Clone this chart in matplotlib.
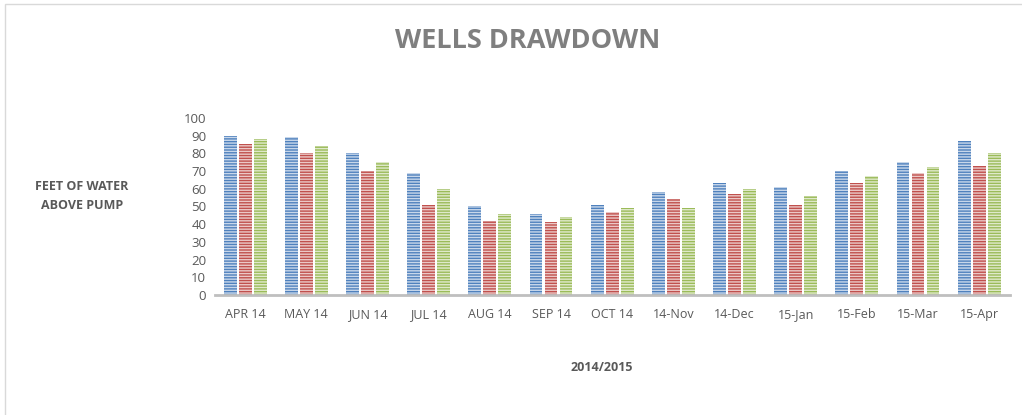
import matplotlib.pyplot as plt
import numpy as np
from matplotlib.patches import Rectangle

# months on the x axis
months = ['APR 14', 'MAY 14', 'JUN 14', 'JUL 14', 'AUG 14', 'SEP 14', 'OCT 14',
          '14-Nov', '14-Dec', '15-Jan', '15-Feb', '15-Mar', '15-Apr']

# three wells (no legend in the original)
well_1 = [90, 89, 80, 69, 50, 46, 51, 58, 63, 61, 70, 75, 87]
well_2 = [85, 80, 70, 51, 42, 41, 47, 54, 57, 51, 63, 69, 73]
well_3 = [88, 84, 75, 60, 46, 44, 49, 49, 60, 56, 67, 72, 80]

colors = ['#4F81BD', '#C0504D', '#9BBB59']

plt.rcParams['font.family'] = ['Open Sans', 'DejaVu Sans']
plt.rcParams['hatch.linewidth'] = 1.0

fig = plt.figure(figsize=(10.22, 4.15), dpi=100)
ax = fig.add_axes([0.21, 0.289, 0.778, 0.427])

x = np.arange(len(months))
pitch = 0.245
width = 0.21
for i, (vals, c) in enumerate(zip([well_1, well_2, well_3], colors)):
    # striped bars: white hatch over the series colour
    ax.bar(x + (i - 1) * pitch, vals, width, color=c, edgecolor='#FFFFFFB0',
           linewidth=0, hatch='------')

ax.set_xlim(-0.5, len(months) - 0.5)
ax.set_ylim(0, 100)
ax.set_yticks(range(0, 101, 10))
ax.set_xticks(x)
ax.set_xticklabels(months)
ax.tick_params(axis='x', length=0, labelsize=9, colors='#595959', pad=9)
ax.tick_params(axis='y', length=0, labelsize=9.5, colors='#595959', pad=6)

for side in ['top', 'right', 'left']:
    ax.spines[side].set_visible(False)
ax.spines['bottom'].set_color('#BFBFBF')
ax.spines['bottom'].set_linewidth(2)

fig.text(0.516, 0.9, 'WELLS DRAWDOWN', ha='center', va='center',
         fontsize=19.5, fontweight='bold', color='#7F7F7F')
fig.text(0.08, 0.527, 'FEET OF WATER\nABOVE PUMP', ha='center', va='center',
         fontsize=9, fontweight='bold', color='#595959', linespacing=1.6)
fig.text(0.589, 0.115, '2014/2015', ha='center', va='center',
         fontsize=9, fontweight='bold', color='#595959')

# chart frame
fig.patches.append(Rectangle((0.005, -0.01), 1.2, 1.0, transform=fig.transFigure,
                             fill=False, edgecolor='#D9D9D9', linewidth=1))

fig.savefig('out.png', dpi=100)
